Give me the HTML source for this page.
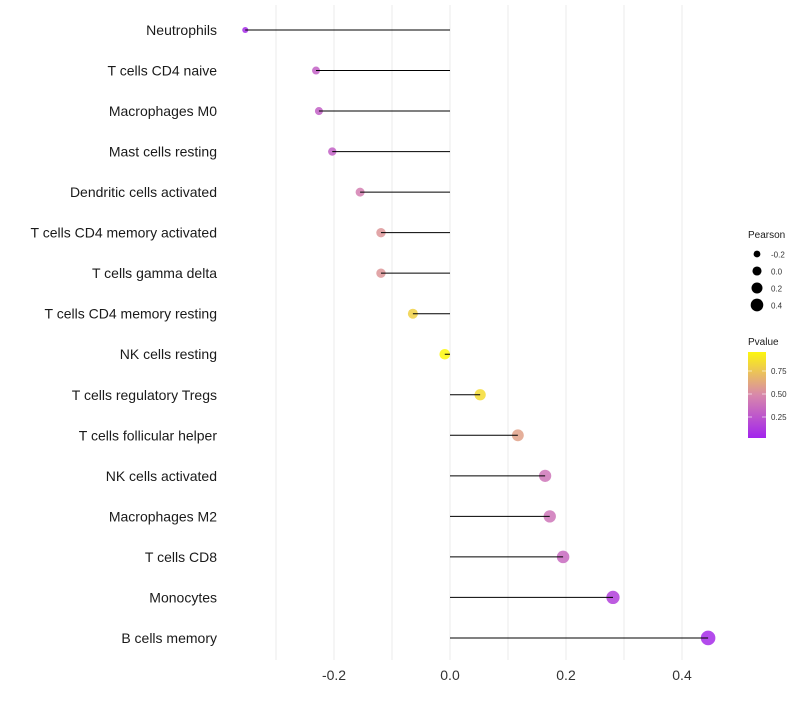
<!DOCTYPE html>
<html><head><meta charset="utf-8"><style>
body{margin:0;background:#fff;font-family:"Liberation Sans",sans-serif}
</style></head><body>
<svg id="chart" width="800" height="700"></svg>
<script>
const categories=["Neutrophils","T cells CD4 naive","Macrophages M0","Mast cells resting","Dendritic cells activated","T cells CD4 memory activated","T cells gamma delta","T cells CD4 memory resting","NK cells resting","T cells regulatory  Tregs ","T cells follicular helper","NK cells activated","Macrophages M2","T cells CD8","Monocytes","B cells memory"];
const pearson=[-0.353,-0.231,-0.226,-0.203,-0.155,-0.119,-0.119,-0.064,-0.009,0.052,0.117,0.164,0.172,0.195,0.281,0.445];
const pvalue=[0.05,0.3,0.3,0.3,0.45,0.55,0.55,0.8,0.97,0.85,0.6,0.4,0.4,0.35,0.15,0.05];
const xTicks=[-0.2,0.0,0.2,0.4];
const xGrid=[-0.3,-0.2,-0.1,0,0.1,0.2,0.3,0.4];
const sizeLegend=[-0.2,0.0,0.2,0.4];
const colorTicks=[0.25,0.5,0.75];
const NS="http://www.w3.org/2000/svg";
const svg=document.getElementById('chart');
function el(t,a,p){const e=document.createElementNS(NS,t);for(const k in a)e.setAttribute(k,a[k]);(p||svg).appendChild(e);return e;}
const x=v=>450+v*580;
const y=i=>30+i*40.53;
const r=v=>Math.sqrt(Math.max(2.25,28.6+55*v));
function col(p){const t=Math.max(0,Math.min(1,p));
 const stops=[[160,32,240],[217,138,170],[255,255,0]];
 let a,b,u;if(t<0.5){a=stops[0];b=stops[1];u=t/0.5}else{a=stops[1];b=stops[2];u=(t-0.5)/0.5}
 return `rgb(${a.map((c,k)=>Math.round(c+(b[k]-c)*u)).join(',')})`;}
xGrid.forEach(v=>{const g=el('line',{x1:x(v),x2:x(v),y1:5,y2:660,stroke:'#ebebeb','stroke-width':1});

});
xTicks.forEach(v=>{const t=el('text',{x:x(v),y:680,'text-anchor':'middle','font-size':14,fill:'#333'});t.textContent=v.toFixed(1);

});
categories.forEach((c,i)=>{
 const t=el('text',{x:217,y:y(i)+5,'text-anchor':'end','font-size':14,fill:'#1a1a1a'});t.textContent=c;
 
 
 const d=el('circle',{cx:x(pearson[i]),cy:y(i),r:r(pearson[i]),fill:col(pvalue[i]),'fill-opacity':0.85});
 
 
 const l=el('line',{x1:x(0),x2:x(pearson[i]),y1:y(i),y2:y(i),stroke:'#000','stroke-width':1});
 
 
});
const lt=el('text',{x:748,y:238,'font-size':10,fill:'#1a1a1a'});lt.textContent='Pearson';


sizeLegend.forEach((v,i)=>{const cy=254+i*17;
 const c=el('circle',{cx:757,cy:cy,r:r(v)-0.8,fill:'#000'});
 
 
 const t=el('text',{x:771,y:cy+3.5,'font-size':8,fill:'#333'});t.textContent=v.toFixed(1);
 
 });
const ct=el('text',{x:748,y:345,'font-size':10,fill:'#1a1a1a'});ct.textContent='Pvalue';


const defs=el('defs',{});const lg=el('linearGradient',{id:'pg',x1:0,y1:1,x2:0,y2:0},defs);
[0,0.25,0.5,0.75,1].forEach(o=>el('stop',{offset:o,'stop-color':col(0.02+o*0.94)},lg));
const cb=el('rect',{x:748,y:352,width:18,height:86,fill:'url(#pg)'});


colorTicks.forEach(v=>{const cy=394-(v-0.5)*92;
 el('line',{x1:748,x2:752,y1:cy,y2:cy,stroke:'#fff','stroke-opacity':0.6});el('line',{x1:762,x2:766,y1:cy,y2:cy,stroke:'#fff','stroke-opacity':0.6});
 const t=el('text',{x:771,y:cy+3,'font-size':8,fill:'#333'});t.textContent=v.toFixed(2);
 
 });
</script>
</body></html>
